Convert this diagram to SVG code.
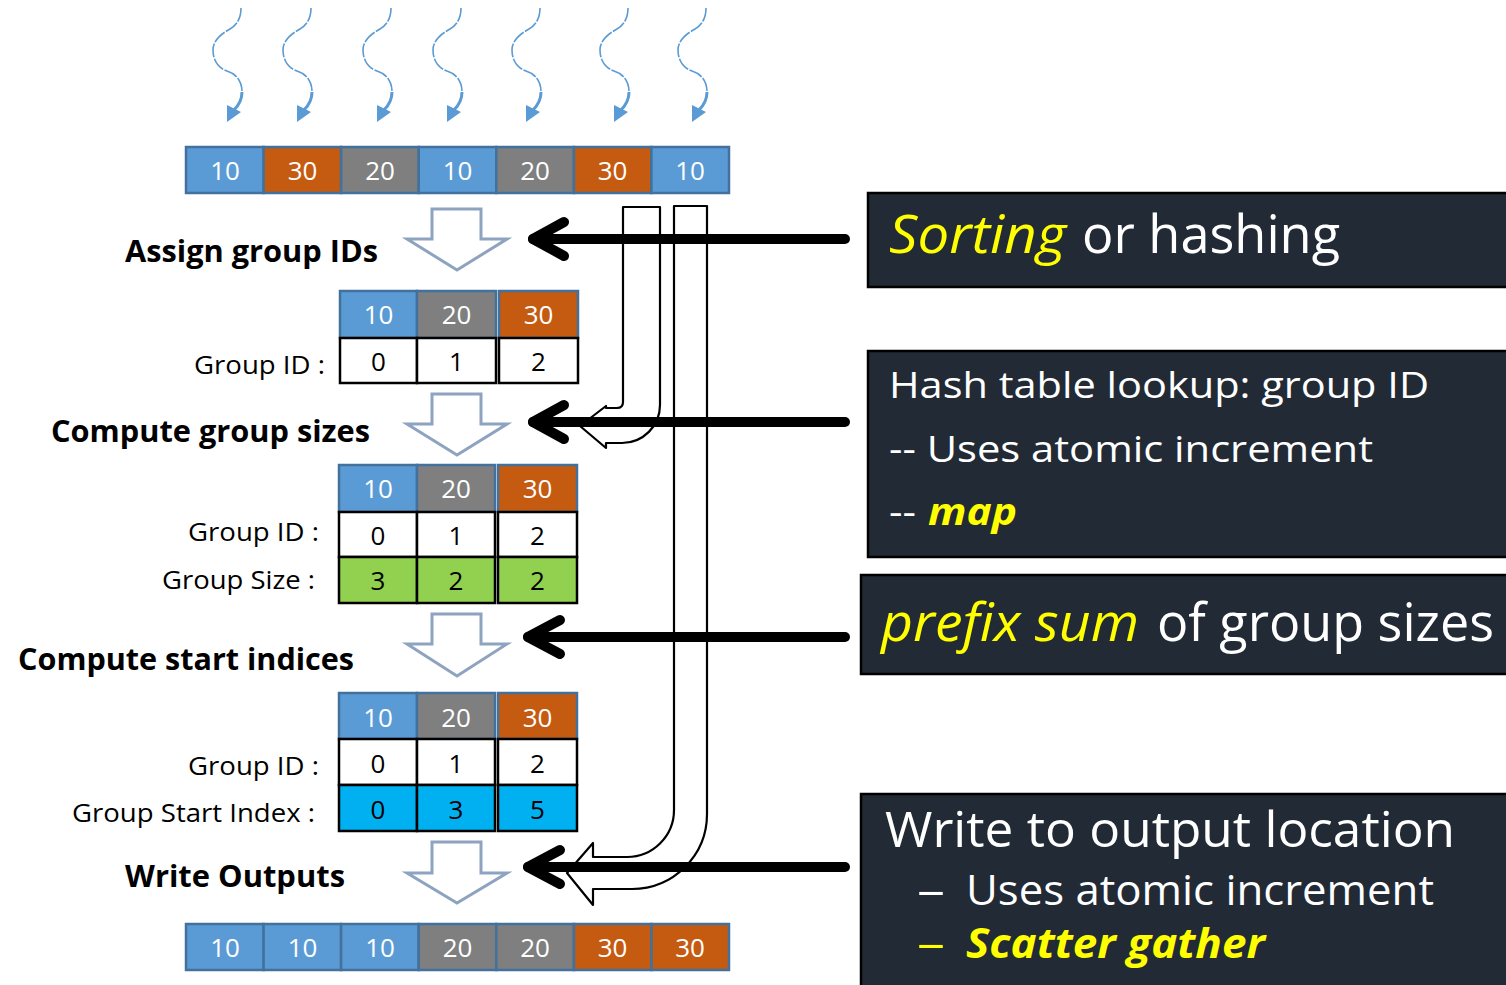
<svg xmlns="http://www.w3.org/2000/svg" xmlns:xlink="http://www.w3.org/1999/xlink" width="1506" height="985" viewBox="0 0 1506 985">
<style>
text{font-family:"Open Sans","Noto Sans","Liberation Sans",sans-serif}
.num{font-size:26px;text-anchor:middle}
.w{fill:#ffffff}
.k{fill:#000000}
.lbl{font-size:30px;font-weight:bold;fill:#000}
.sub{font-size:26px;fill:#000}
.blue{fill:#5b9bd5;stroke:#41719c;stroke-width:2.5}
.grey{fill:#7f7f7f;stroke:#41719c;stroke-width:2.5}
.orng{fill:#c55a11;stroke:#41719c;stroke-width:2.5}
.wc{fill:#ffffff;stroke:#000;stroke-width:2.5}
.gc{fill:#92d050;stroke:#000;stroke-width:2.5}
.cc{fill:#00b0f0;stroke:#000;stroke-width:2.5}
.hollow{fill:#ffffff;stroke:#8ea3bf;stroke-width:3}
.squig{fill:none;stroke:#5b9bd5;stroke-width:1.6;stroke-dasharray:14 1.5}
.squig2{fill:none;stroke:#5b9bd5;stroke-width:3}
.bent{fill:#ffffff;stroke:#000;stroke-width:2.2;stroke-linejoin:round}
.thick{fill:none;stroke:#000;stroke-width:10;stroke-linecap:round;stroke-linejoin:round}
.box{fill:#222a35;stroke:#000;stroke-width:2.5}
.bw{fill:#ffffff}
.by{fill:#ffff00}
</style>
<defs>
<g id="squiggle">
<path class="squig" d="M14,-114 C14,-104 10,-97 3,-93 C-8,-87 -14,-80 -14,-72 C-14,-62 -9,-54 0,-51 C10,-48 15,-40 15,-30"/>
<path class="squig2" d="M15,-30 C15,-22 12,-17 7,-12"/>
<polygon points="0,0 0,-17 14,-10" fill="#5b9bd5"/>
</g>
</defs>

<g id="threads">
<use xlink:href="#squiggle" transform="translate(227,122)"/>
<use xlink:href="#squiggle" transform="translate(297,122)"/>
<use xlink:href="#squiggle" transform="translate(377,122)"/>
<use xlink:href="#squiggle" transform="translate(447,122)"/>
<use xlink:href="#squiggle" transform="translate(526,122)"/>
<use xlink:href="#squiggle" transform="translate(614,122)"/>
<use xlink:href="#squiggle" transform="translate(692,122)"/>
</g>

<g id="input-row">
<rect class="blue" x="186" y="147" width="77.6" height="46"/>
<rect class="orng" x="263.6" y="147" width="77.5" height="46"/>
<rect class="grey" x="341.1" y="147" width="77.6" height="46"/>
<rect class="blue" x="418.7" y="147" width="77.6" height="46"/>
<rect class="grey" x="496.3" y="147" width="77.6" height="46"/>
<rect class="orng" x="573.9" y="147" width="77.5" height="46"/>
<rect class="blue" x="651.4" y="147" width="77.6" height="46"/>
<text class="num w" x="225" y="180">10</text>
<text class="num w" x="302.5" y="180">30</text>
<text class="num w" x="380" y="180">20</text>
<text class="num w" x="457.5" y="180">10</text>
<text class="num w" x="535" y="180">20</text>
<text class="num w" x="612.5" y="180">30</text>
<text class="num w" x="690" y="180">10</text>
</g>

<g id="step-arrows">
<path class="hollow" d="M432,209 H481 V239 H507 L457,270 L407,239 H432 Z"/>
<path class="hollow" d="M432,394 H481 V424 H507 L457,455 L407,424 H432 Z"/>
<path class="hollow" d="M432,614 H481 V644 H507 L457,676 L407,644 H432 Z"/>
<path class="hollow" d="M432,842 H481 V873 H507 L457,903 L407,873 H432 Z"/>
</g>

<g id="label-assign"><text class="lbl" x="125" y="262" textLength="253" lengthAdjust="spacingAndGlyphs">Assign group IDs</text></g>

<g id="table-ids">
<rect class="blue" x="340" y="291" width="77" height="47"/>
<rect class="grey" x="417" y="291" width="79" height="47"/>
<rect class="orng" x="499" y="291" width="79" height="47"/>
<rect class="wc" x="340" y="338" width="77" height="45"/>
<rect class="wc" x="417" y="338" width="79" height="45"/>
<rect class="wc" x="499" y="338" width="79" height="45"/>
<text class="num w" x="378.5" y="324">10</text>
<text class="num w" x="456.5" y="324">20</text>
<text class="num w" x="538.5" y="324">30</text>
<text class="num k" x="378.5" y="371">0</text>
<text class="num k" x="456.5" y="371">1</text>
<text class="num k" x="538.5" y="371">2</text>
<text class="sub" x="194" y="374" textLength="131" lengthAdjust="spacingAndGlyphs">Group ID :</text>
</g>

<g id="label-sizes"><text class="lbl" x="51" y="442" textLength="319" lengthAdjust="spacingAndGlyphs">Compute group sizes</text></g>

<g id="table-sizes">
<rect class="blue" x="339" y="465" width="78" height="47"/>
<rect class="grey" x="417" y="465" width="78" height="47"/>
<rect class="orng" x="498" y="465" width="79" height="47"/>
<rect class="wc" x="339" y="512" width="78" height="45"/>
<rect class="wc" x="417" y="512" width="78" height="45"/>
<rect class="wc" x="498" y="512" width="79" height="45"/>
<rect class="gc" x="339" y="557" width="78" height="46"/>
<rect class="gc" x="417" y="557" width="78" height="46"/>
<rect class="gc" x="498" y="557" width="79" height="46"/>
<text class="num w" x="378" y="498">10</text>
<text class="num w" x="456" y="498">20</text>
<text class="num w" x="537.5" y="498">30</text>
<text class="num k" x="378" y="545">0</text>
<text class="num k" x="456" y="545">1</text>
<text class="num k" x="537.5" y="545">2</text>
<text class="num k" x="378" y="590">3</text>
<text class="num k" x="456" y="590">2</text>
<text class="num k" x="537.5" y="590">2</text>
<text class="sub" x="188" y="541" textLength="131" lengthAdjust="spacingAndGlyphs">Group ID :</text>
<text class="sub" x="162" y="589" textLength="153" lengthAdjust="spacingAndGlyphs">Group Size :</text>
</g>

<g id="label-start"><text class="lbl" x="18" y="670" textLength="336" lengthAdjust="spacingAndGlyphs">Compute start indices</text></g>

<g id="table-start">
<rect class="blue" x="339" y="693" width="78" height="46"/>
<rect class="grey" x="417" y="693" width="78" height="46"/>
<rect class="orng" x="498" y="693" width="79" height="46"/>
<rect class="wc" x="339" y="739" width="78" height="46"/>
<rect class="wc" x="417" y="739" width="78" height="46"/>
<rect class="wc" x="498" y="739" width="79" height="46"/>
<rect class="cc" x="339" y="785" width="78" height="46"/>
<rect class="cc" x="417" y="785" width="78" height="46"/>
<rect class="cc" x="498" y="785" width="79" height="46"/>
<text class="num w" x="378" y="727">10</text>
<text class="num w" x="456" y="727">20</text>
<text class="num w" x="537.5" y="727">30</text>
<text class="num k" x="378" y="773">0</text>
<text class="num k" x="456" y="773">1</text>
<text class="num k" x="537.5" y="773">2</text>
<text class="num k" x="378" y="819">0</text>
<text class="num k" x="456" y="819">3</text>
<text class="num k" x="537.5" y="819">5</text>
<text class="sub" x="188" y="775" textLength="131" lengthAdjust="spacingAndGlyphs">Group ID :</text>
<text class="sub" x="72" y="822" textLength="243" lengthAdjust="spacingAndGlyphs">Group Start Index :</text>
</g>

<g id="label-write"><text class="lbl" x="125" y="887" textLength="220" lengthAdjust="spacingAndGlyphs">Write Outputs</text></g>

<g id="output-row">
<rect class="blue" x="186" y="924" width="77.6" height="46"/>
<rect class="blue" x="263.6" y="924" width="77.5" height="46"/>
<rect class="blue" x="341.1" y="924" width="77.6" height="46"/>
<rect class="grey" x="418.7" y="924" width="77.6" height="46"/>
<rect class="grey" x="496.3" y="924" width="77.6" height="46"/>
<rect class="orng" x="573.9" y="924" width="77.5" height="46"/>
<rect class="orng" x="651.4" y="924" width="77.6" height="46"/>
<text class="num w" x="225" y="957">10</text>
<text class="num w" x="302.5" y="957">10</text>
<text class="num w" x="380" y="957">10</text>
<text class="num w" x="457.5" y="957">20</text>
<text class="num w" x="535" y="957">20</text>
<text class="num w" x="612.5" y="957">30</text>
<text class="num w" x="690" y="957">30</text>
</g>

<g id="connectors">
<path class="bent" d="M623,207 H660 V405 A38,38 0 0 1 622,443 H606 V448 L580,426 L606,406 V408 H617 Q623,408 623,402 Z"/>
<path class="bent" d="M674,206 H707 V814 A75,75 0 0 1 632,889 H593 V905 L567,873 L593,843 V857 H627 A47,47 0 0 0 674,810 Z"/>
<line class="thick" x1="533" y1="239" x2="845" y2="239"/>
<polyline class="thick" points="564,222 533,239 564,256"/>
<line class="thick" x1="533" y1="422" x2="845" y2="422"/>
<polyline class="thick" points="564,405 533,422 564,439"/>
<line class="thick" x1="528" y1="637" x2="845" y2="637"/>
<polyline class="thick" points="560,620 528,637 560,654"/>
<line class="thick" x1="528" y1="867" x2="845" y2="867"/>
<polyline class="thick" points="560,850 528,867 560,884"/>
</g>

<g id="note-sorting">
<rect class="box" x="868" y="193" width="645" height="94"/>
<text x="889" y="253" font-size="53" font-style="italic" class="by" textLength="177" lengthAdjust="spacingAndGlyphs">Sorting</text>
<text x="1082" y="253" font-size="53" class="bw" textLength="258" lengthAdjust="spacingAndGlyphs">or hashing</text>
</g>

<g id="note-hash">
<rect class="box" x="868" y="351" width="645" height="206"/>
<text x="889" y="398" font-size="37" class="bw" textLength="540" lengthAdjust="spacingAndGlyphs">Hash table lookup: group ID</text>
<text x="889" y="462" font-size="37" class="bw" textLength="484" lengthAdjust="spacingAndGlyphs">-- Uses atomic increment</text>
<text x="889" y="525" font-size="37" class="bw" textLength="27" lengthAdjust="spacingAndGlyphs">--</text>
<text x="928" y="525" font-size="37" font-weight="bold" font-style="italic" class="by" textLength="89" lengthAdjust="spacingAndGlyphs">map</text>
</g>

<g id="note-prefix">
<rect class="box" x="861" y="575" width="652" height="99"/>
<text x="881" y="641" font-size="53" font-style="italic" class="by" textLength="258" lengthAdjust="spacingAndGlyphs">prefix sum</text>
<text x="1157" y="641" font-size="53" class="bw" textLength="337" lengthAdjust="spacingAndGlyphs">of group sizes</text>
</g>

<g id="note-write">
<rect class="box" x="861" y="794" width="652" height="200"/>
<text x="885" y="847" font-size="49" class="bw" textLength="570" lengthAdjust="spacingAndGlyphs">Write to output location</text>
<text x="917" y="905" font-size="42" class="bw" textLength="28" lengthAdjust="spacingAndGlyphs">–</text>
<text x="966" y="905" font-size="42" class="bw" textLength="468" lengthAdjust="spacingAndGlyphs">Uses atomic increment</text>
<text x="917" y="958" font-size="42" class="by" textLength="28" lengthAdjust="spacingAndGlyphs">–</text>
<text x="966" y="958" font-size="42" font-weight="bold" font-style="italic" class="by" textLength="299" lengthAdjust="spacingAndGlyphs">Scatter gather</text>
</g>
</svg>
